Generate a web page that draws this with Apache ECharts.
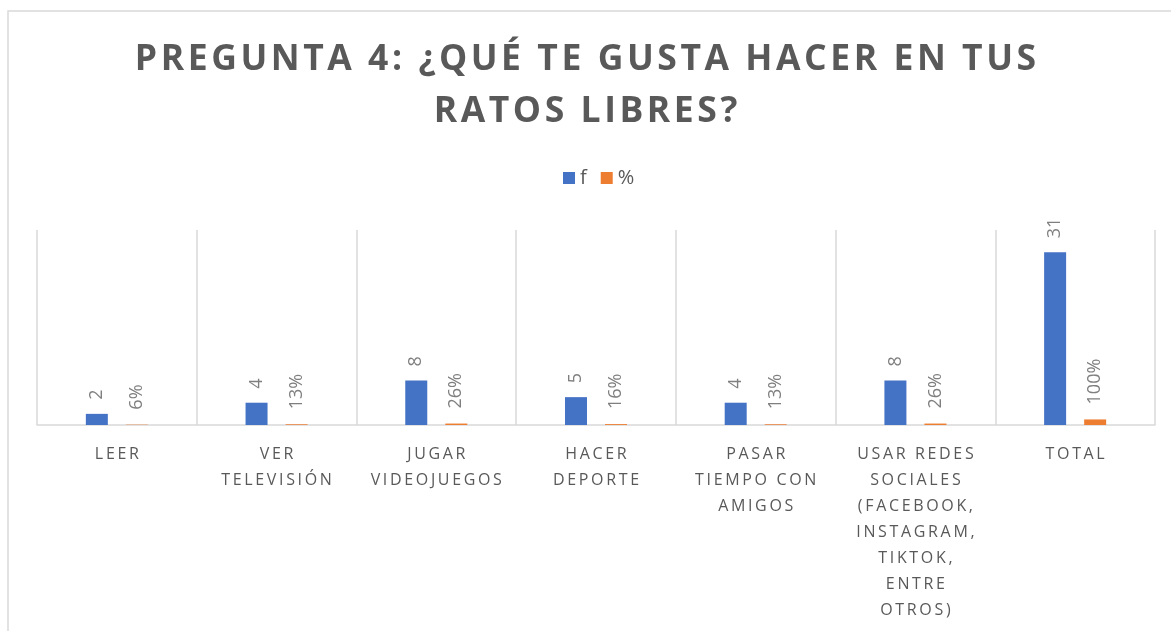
<!DOCTYPE html>
<html>
<head>
<meta charset="utf-8">
<script src="https://cdn.jsdelivr.net/npm/echarts@6/dist/echarts.min.js"></script>
<style>
  html, body { margin: 0; padding: 0; background: #fff; }
  #chart { width: 1171px; height: 631px; }
</style>
</head>
<body>
<div id="chart"></div>
<script>
const categories = [
  'LEER',
  'VER\nTELEVISIÓN',
  'JUGAR\nVIDEOJUEGOS',
  'HACER\nDEPORTE',
  'PASAR\nTIEMPO CON\nAMIGOS',
  'USAR REDES\nSOCIALES\n(FACEBOOK,\nINSTAGRAM,\nTIKTOK,\nENTRE\nOTROS)',
  'TOTAL'
];
const fValues = [2, 4, 8, 5, 4, 8, 31];
const pctValues = [0.06, 0.13, 0.26, 0.16, 0.13, 0.26, 1];

// fake letter-spacing: put a thin space between characters of each line
function spaced(text, sep) {
  return text.split('\n').map(line => line.split('').join(sep)).join('\n');
}

const chart = echarts.init(document.getElementById('chart'));

chart.setOption({
  animation: false,
  textStyle: { fontFamily: 'Open Sans' },
  title: {
    text: spaced('PREGUNTA 4: ¿QUÉ TE GUSTA HACER EN TUS\nRATOS LIBRES?', '\u200A'),
    left: 'center',
    top: 29,
    textStyle: {
      fontSize: 35.5,
      fontWeight: 'bold',
      color: '#595959',
      lineHeight: 52,
    },
  },
  legend: {
    top: 163,
    left: 558,
    itemWidth: 12,
    itemHeight: 12,
    itemGap: 14,
    icon: 'rect',
    data: ['f', '%'],
    textStyle: { fontSize: 20, color: '#595959' },
  },
  graphic: [{
    type: 'rect',
    shape: { x: 8, y: 11, width: 1300, height: 800 },
    style: { fill: 'none', stroke: '#d9d9d9', lineWidth: 1.5 },
    silent: true,
  }],
  grid: {
    left: 37,
    right: 16,
    top: 230,
    bottom: 206,
  },
  xAxis: {
    type: 'category',
    data: categories,
    axisLine: { lineStyle: { color: '#d9d9d9', width: 1.5 } },
    axisTick: { show: false },
    splitLine: { show: true, lineStyle: { color: '#d9d9d9', width: 1.5 } },
    axisLabel: {
      interval: 0,
      margin: 16,
      fontSize: 16,
      lineHeight: 26,
      color: '#595959',
      formatter: v => spaced(v, '\u2009'),
    },
  },
  yAxis: {
    type: 'value',
    min: 0,
    max: 35,
    show: false,
  },
  series: [
    {
      name: 'f',
      type: 'bar',
      data: fValues,
      barWidth: 22,
      barGap: '82%',
      itemStyle: { color: '#4472C4' },
      label: {
        show: true,
        position: 'top',
        rotate: 90,
        align: 'left',
        verticalAlign: 'middle',
        distance: 14,
        fontSize: 18,
        color: '#7f7f7f',
      },
    },
    {
      name: '%',
      type: 'bar',
      data: pctValues,
      barWidth: 22,
      itemStyle: { color: '#ED7D31' },
      label: {
        show: true,
        position: 'top',
        rotate: 90,
        align: 'left',
        verticalAlign: 'middle',
        distance: 15,
        fontSize: 18,
        color: '#7f7f7f',
        formatter: p => Math.round(p.value * 100) + '%',
      },
    },
  ],
});
</script>
</body>
</html>
